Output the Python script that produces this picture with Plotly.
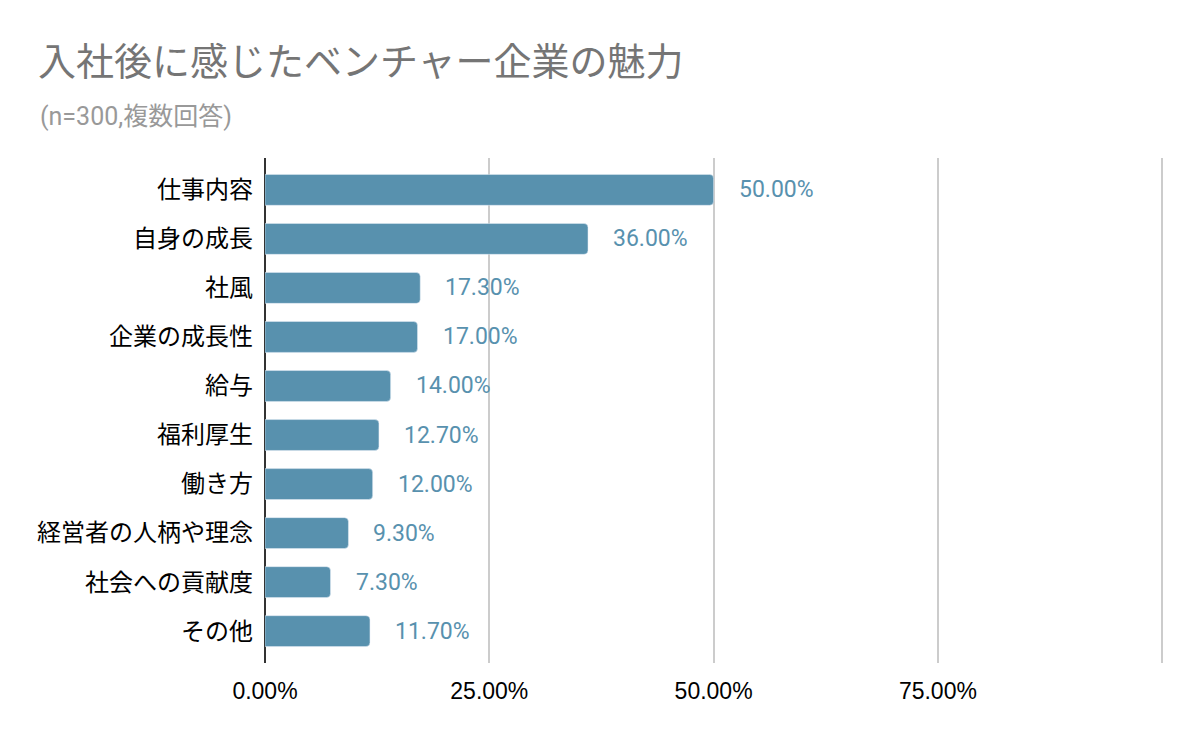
import plotly.graph_objects as go

categories = ["仕事内容", "自身の成長", "社風", "企業の成長性", "給与",
              "福利厚生", "働き方", "経営者の人柄や理念", "社会への貢献度", "その他"]
values = [50.0, 36.0, 17.3, 17.0, 14.0, 12.7, 12.0, 9.3, 7.3, 11.7]
tick_vals = [0, 25, 50, 75, 100]
tick_text = ["0.00%", "25.00%", "50.00%", "75.00%", ""]

bar_color = "#5891ae"
roboto = "Roboto, 'Noto Sans CJK JP', sans-serif"
arial = "'Liberation Sans', Arial, 'Noto Sans CJK JP', sans-serif"

# page body has an 8px margin, so the figure is sized to fit inside it
W, H = 1184, 726

fig = go.Figure()

fig.add_trace(go.Bar(
    x=values,
    y=categories,
    orientation="h",
    marker=dict(color=bar_color, cornerradius=4),
    showlegend=False,
    hoverinfo="x+y",
))

# value labels sit a bit to the right of each bar
for cat, v in zip(categories, values):
    fig.add_annotation(
        x=v, y=cat, text=f"{v:.2f}%",
        xanchor="left", yanchor="middle", xshift=23, showarrow=False,
        font=dict(size=23, color=bar_color, family=roboto),
    )

fig.add_annotation(
    text="(n=300,複数回答)",
    xref="paper", yref="paper",
    x=(38 - 265) / 899, y=(663 - 117) / 505,
    xanchor="left", yanchor="middle", showarrow=False,
    font=dict(size=25, color="#999999", family=roboto),
)

fig.update_layout(
    title=dict(
        text="入社後に感じたベンチャー企業の魅力",
        xref="container", yref="container",
        x=30 / W, y=1 - 54 / H,
        xanchor="left", yanchor="middle",
        font=dict(size=38, color="#757575", family=roboto),
    ),
    width=W, height=H,
    margin=dict(l=257, r=28, t=150, b=71),
    plot_bgcolor="white",
    paper_bgcolor="white",
    bargap=0.37,
    font=dict(family=arial, color="black"),
)

fig.update_xaxes(
    range=[0, 100.2],
    tickvals=tick_vals, ticktext=tick_text,
    showgrid=True, gridcolor="#cccccc", gridwidth=2,
    zeroline=True, zerolinecolor="#333333", zerolinewidth=2,
    tickfont=dict(size=23, color="black", family=arial),
    ticklabelstandoff=12,
    fixedrange=True,
)

fig.update_yaxes(
    range=[9.65, -0.65],
    tickfont=dict(size=24, color="black", family=arial),
    ticklabelstandoff=11,
    showgrid=False,
)

fig.write_html("out.html")
